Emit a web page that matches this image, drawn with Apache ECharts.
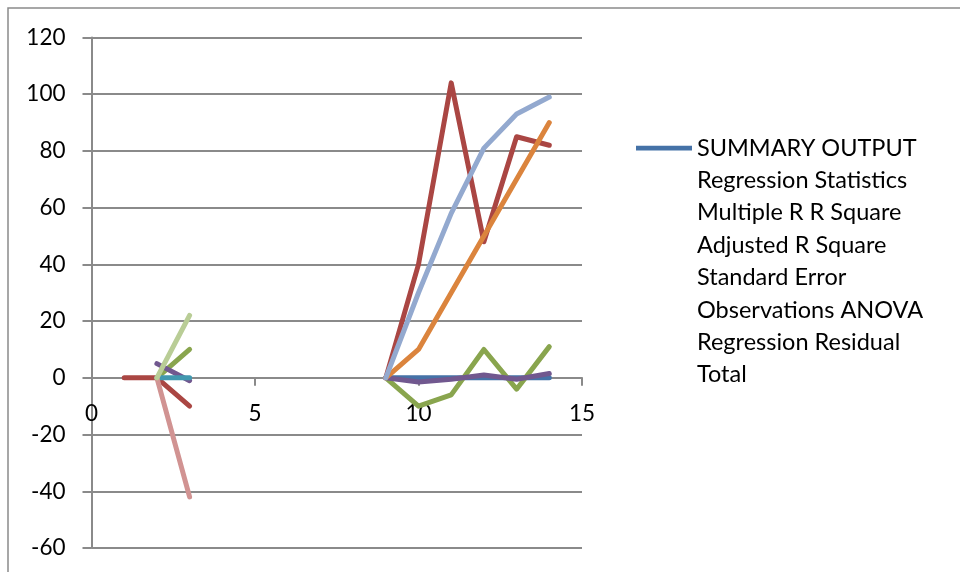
<!DOCTYPE html>
<html>
<head>
<meta charset="utf-8">
<script src="https://cdn.jsdelivr.net/npm/echarts@6/dist/echarts.min.js"></script>
<style>
  html, body { margin: 0; padding: 0; background: #ffffff; }
  #chart { width: 960px; height: 572px; }
</style>
</head>
<body>
<div id="chart"></div>
<script>
// x positions shared by every series (1..14); null = no point there
const xValues = [1, 2, 3, 4, 5, 6, 7, 8, 9, 10, 11, 12, 13, 14];

const summaryName = 'SUMMARY OUTPUT Regression Statistics Multiple R R Square Adjusted R Square Standard Error Observations ANOVA Regression Residual Total';

const summaryValues  = [null, null, null, null, null, null, null, null, 0, 0, 0, 0, 0, 0];
const redValues      = [0, 0, -10, null, null, null, null, null, 0, 40, 104, 48, 85, 82];
const greenValues    = [null, 0, 10, null, null, null, null, null, 0, -10, -6, 10, -4, 11];
const purpleValues   = [null, 5, -1, null, null, null, null, null, 0, -1.5, -0.5, 1, -0.5, 1.5];
const tealValues     = [null, 0, 0, null, null, null, null, null, null, null, null, null, null, null];
const orangeValues   = [null, null, null, null, null, null, null, null, 0, 10, 30, 50, 70, 90];
const lightBlueValues  = [null, null, null, null, null, null, null, null, 0, 30, 58, 81, 93, 99];
const pinkValues       = [null, 0, -42, null, null, null, null, null, null, null, null, null, null, null];
const lightGreenValues = [null, 0, 22, null, null, null, null, null, null, null, null, null, null, null];

const seriesDefs = [
  { name: summaryName, values: summaryValues,    color: '#4572A7' },
  { name: 'Series 2',  values: redValues,        color: '#AA4643' },
  { name: 'Series 3',  values: greenValues,      color: '#89A54E' },
  { name: 'Series 4',  values: purpleValues,     color: '#71588F' },
  { name: 'Series 5',  values: tealValues,       color: '#4198AF' },
  { name: 'Series 6',  values: orangeValues,     color: '#DB843D' },
  { name: 'Series 7',  values: lightBlueValues,  color: '#93A9CF' },
  { name: 'Series 8',  values: pinkValues,       color: '#D19392' },
  { name: 'Series 9',  values: lightGreenValues, color: '#B9CD96' }
];

const FONT = 'Lato, "Liberation Sans", sans-serif';
const GRID_COLOR = '#8a8a8a';
const LEGEND_LINE_H = 32.4;
const LEGEND_LINES = 8;
const legendH = LEGEND_LINE_H * LEGEND_LINES;

const Y_MIN = -60;
const Y_MAX = 120;

const chart = echarts.init(document.getElementById('chart'), null, { renderer: 'canvas' });

chart.setOption({
  animation: false,
  backgroundColor: '#ffffff',
  graphic: [{
    type: 'rect',
    shape: { x: 8, y: 8, width: 2000, height: 2000 },
    style: { fill: 'none', stroke: GRID_COLOR, lineWidth: 1.5 },
    silent: true
  }],
  grid: { left: 91.5, right: 378, top: 37.5, bottom: 24, containLabel: false, outerBoundsMode: 'none' },
  legend: {
    data: [summaryName],
    left: 636,
    top: 148 - LEGEND_LINE_H / 2,
    padding: 0,
    orient: 'vertical',
    itemWidth: 56,
    itemHeight: legendH,
    symbolKeepAspect: false,
    icon: 'path://M0,0M0,14L56,14L56,18.8L0,18.8ZM0,' + legendH,
    itemStyle: { borderWidth: 0 },
    textStyle: {
      fontFamily: FONT,
      fontSize: 23.5,
      color: '#000000',
      width: 250,
      overflow: 'break',
      lineHeight: LEGEND_LINE_H
    }
  },
  xAxis: {
    type: 'value',
    min: 0,
    max: 15,
    interval: 5,
    position: 'bottom',
    offset: 0,
    axisLine: { onZero: false, lineStyle: { color: GRID_COLOR, width: 2 } },
    axisTick: { show: true, length: 8, lineStyle: { color: GRID_COLOR, width: 2 } },
    axisLabel: { margin: 24, color: '#000000', fontFamily: FONT, fontSize: 22.5 },
    splitLine: { show: false }
  },
  yAxis: {
    type: 'value',
    min: Y_MIN,
    max: Y_MAX,
    interval: 20,
    axisLine: { show: true, onZero: false, lineStyle: { color: GRID_COLOR, width: 2 } },
    axisTick: { show: true, length: 9, lineStyle: { color: GRID_COLOR, width: 2 } },
    axisLabel: { margin: 26, color: '#000000', fontFamily: FONT, fontSize: 22.5 },
    splitLine: { show: true, lineStyle: { color: GRID_COLOR, width: 2 } }
  },
  series: seriesDefs.map(function (s) {
    return {
      name: s.name,
      type: 'line',
      data: xValues.map(function (x, i) {
        return [x, s.values[i] === null ? '-' : s.values[i]];
      }),
      connectNulls: false,
      showSymbol: false,
      symbol: 'none',
      color: s.color,
      lineStyle: { color: s.color, width: 5, cap: 'round', join: 'round' },
      emphasis: { disabled: true }
    };
  })
});

// Lift the x axis (line, ticks and labels) up to where y = 0 sits on the value scale.
const zeroY = chart.convertToPixel({ yAxisIndex: 0 }, 0);
const bottomY = chart.convertToPixel({ yAxisIndex: 0 }, Y_MIN);
chart.setOption({ xAxis: { offset: zeroY - bottomY } });
</script>
</body>
</html>
